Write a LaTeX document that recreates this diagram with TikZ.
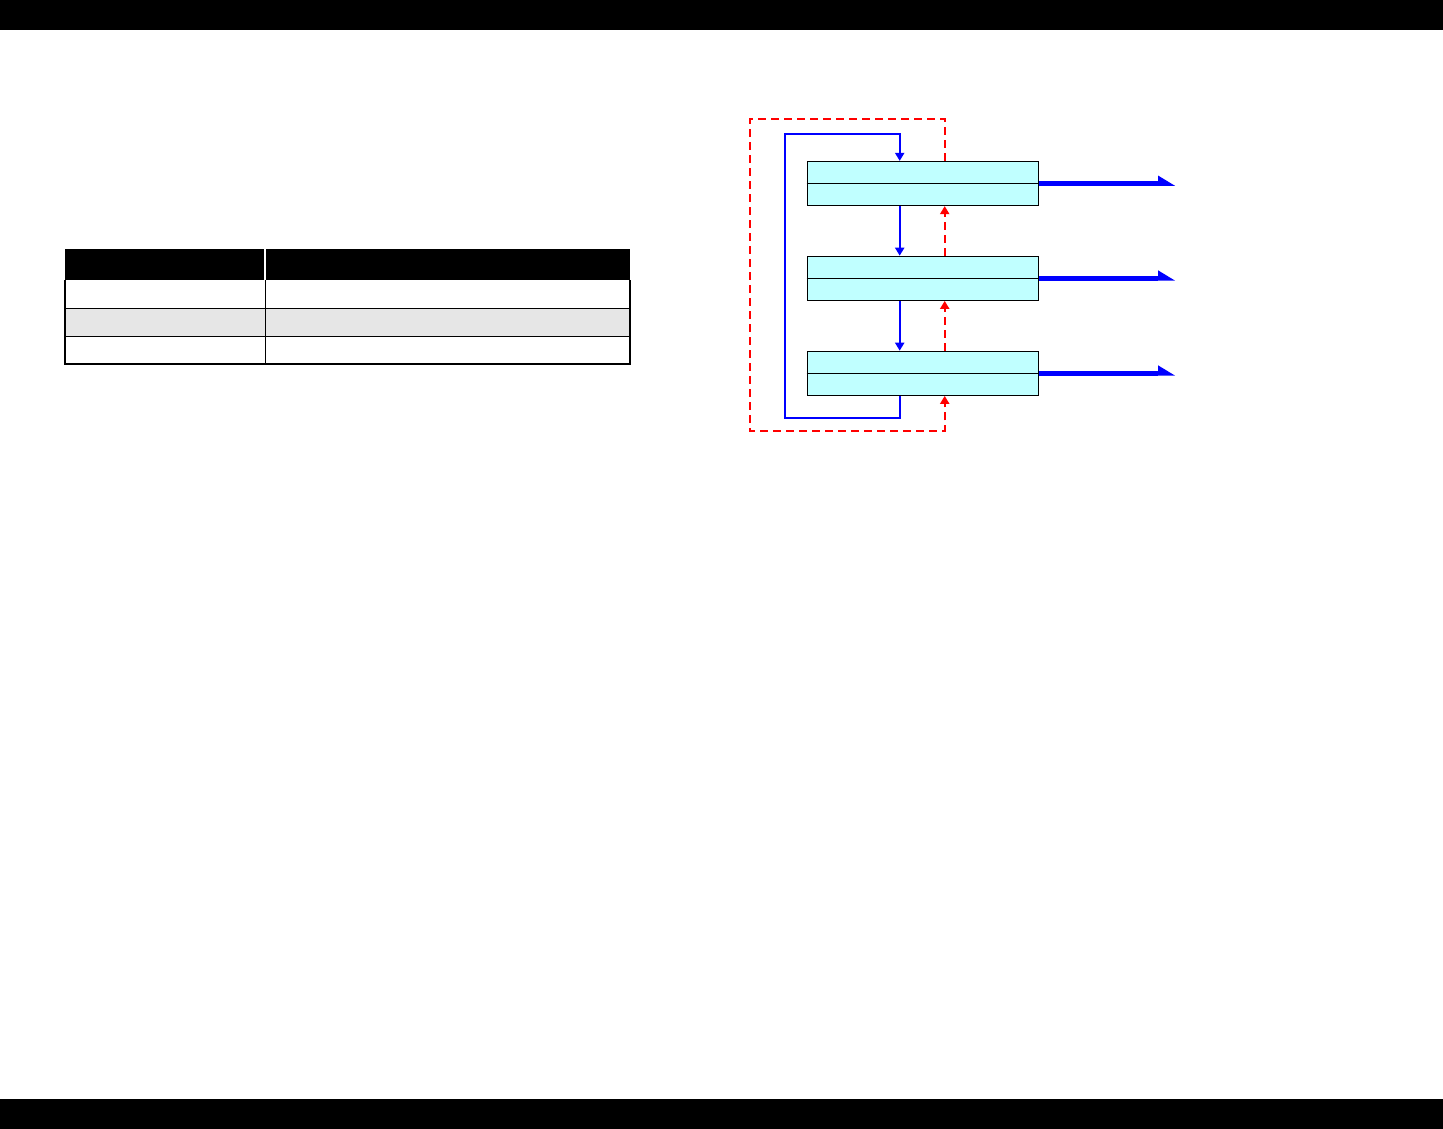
\documentclass[tikz,border=0pt]{standalone}
\usetikzlibrary{arrows.meta}
\definecolor{boxcyan}{RGB}{192,255,255}
\definecolor{rowgray}{RGB}{230,230,230}
\definecolor{pureblue}{RGB}{0,0,255}
\definecolor{purered}{RGB}{255,0,0}
\tikzset{
  regbox/.style={draw=black, line width=1.2pt, fill=boxcyan, minimum width=231pt, minimum height=44pt, inner sep=0pt, rectangle},
  bluearr/.style={draw=pureblue, line width=2pt, -{Triangle[length=8pt,width=9pt]}},
  redarr/.style={draw=purered, line width=2pt, dash pattern=on 8pt off 5pt, -{Triangle[length=8pt,width=9pt]}},
  outline/.style={draw=pureblue, line width=4.5pt},
  outhead/.style={fill=pureblue},
  tabline/.style={draw=black, line width=1pt},
  tabframe/.style={draw=black, line width=2pt}
}
\begin{document}
\begin{tikzpicture}[x=1pt,y=-1pt]
\useasboundingbox (0,0) rectangle (1443,1129);
% page bars
\fill[black] (0,0) rectangle (1443,30);
\fill[black] (0,1099) rectangle (1443,1129);

% table
\fill[black] (65,249) rectangle (630,280);
\draw[white, line width=1.2pt] (265,249) -- (265,280);
\fill[rowgray] (65,308) rectangle (630,336);
\draw[tabline] (65,308) -- (630,308);
\draw[tabline] (65,336) -- (630,336);
\draw[tabline] (265,280) -- (265,364);
\draw[tabframe] (65,280) -- (65,364) -- (630,364) -- (630,280);

% boxes
\node[regbox] (b1) at (922.8,183.5) {};
\node[regbox] (b2) at (922.8,278.3) {};
\node[regbox] (b3) at (922.8,373.3) {};
\draw[black, line width=1.2pt] (b1.west) -- (b1.east);
\draw[black, line width=1.2pt] (b2.west) -- (b2.east);
\draw[black, line width=1.2pt] (b3.west) -- (b3.east);

% blue flow
\draw[bluearr] ([xshift=93pt]b1.south west) -- ([xshift=93pt]b2.north west);
\draw[bluearr] ([xshift=93pt]b2.south west) -- ([xshift=93pt]b3.north west);
\coordinate (bl) at (785,134);
\draw[bluearr] ([xshift=93pt]b3.south west) -- ++(0,22) -| (bl) -| ([xshift=93pt]b1.north west);

% red dashed flow
\draw[redarr] ([xshift=138pt]b2.north west) -- ([xshift=138pt]b1.south west);
\draw[redarr] ([xshift=138pt]b3.north west) -- ([xshift=138pt]b2.south west);
\coordinate (rtl) at (750,119);
\coordinate (rbl) at (750,431);
\draw[redarr] ([xshift=138pt]b1.north west) |- (rtl) -- (rbl) -| ([xshift=138pt]b3.south west);

% outputs
\coordinate (ox) at (1158,0);
\foreach \b in {b1,b2,b3}{
  \coordinate (\b o) at (\b.east -| ox);
  \draw[outline] (\b.east) -- (\b o);
  \fill[outhead] ([yshift=8pt]\b o) -- ([yshift=-2.3pt]\b o) -- ([xshift=17pt,yshift=-2.3pt]\b o) -- cycle;
}
\end{tikzpicture}
\end{document}
